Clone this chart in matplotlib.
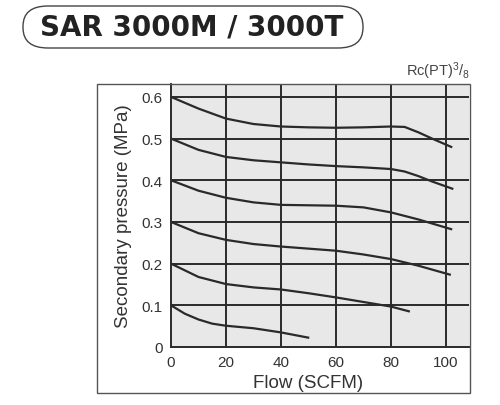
import matplotlib
matplotlib.use("Agg")
import matplotlib.pyplot as plt
from matplotlib.patches import FancyBboxPatch, Rectangle

plt.rcParams['font.family'] = ['Liberation Sans', 'DejaVu Sans']
plt.rcParams['mathtext.default'] = 'regular'

# curves (flow SCFM, secondary pressure MPa)
x06 = [0, 10, 20, 30, 40, 50, 60, 70, 80, 85, 90, 95, 102.3]
y06 = [0.6, 0.572, 0.548, 0.535, 0.529, 0.527, 0.526, 0.527, 0.529, 0.528, 0.515, 0.5, 0.479]
x05 = [0, 10, 20, 30, 40, 50, 60, 70, 80, 85, 90, 95, 102.7]
y05 = [0.5, 0.473, 0.456, 0.448, 0.443, 0.438, 0.434, 0.431, 0.427, 0.421, 0.41, 0.397, 0.379]
x04 = [0, 10, 20, 30, 40, 50, 60, 70, 80, 90, 102.3]
y04 = [0.4, 0.375, 0.358, 0.347, 0.341, 0.34, 0.339, 0.335, 0.323, 0.306, 0.282]
x03 = [0, 10, 20, 30, 40, 50, 60, 70, 80, 90, 101.8]
y03 = [0.3, 0.273, 0.257, 0.247, 0.241, 0.236, 0.231, 0.222, 0.211, 0.195, 0.173]
x02 = [0, 10, 20, 30, 40, 50, 60, 70, 80, 86.9]
y02 = [0.2, 0.168, 0.151, 0.143, 0.138, 0.129, 0.119, 0.108, 0.097, 0.085]
x01 = [0, 5, 10, 15, 20, 30, 40, 50.3]
y01 = [0.1, 0.08, 0.066, 0.056, 0.051, 0.045, 0.035, 0.022]

curves = [(x06, y06), (x05, y05), (x04, y04), (x03, y03), (x02, y02), (x01, y01)]
xticks = [0, 20, 40, 60, 80, 100]
yticks = [0, 0.1, 0.2, 0.3, 0.4, 0.5, 0.6]
ytick_labels = ['0', '0.1', '0.2', '0.3', '0.4', '0.5', '0.6']

W, H = 500, 406
fig = plt.figure(figsize=(W / 100, H / 100), dpi=100)

# outer frame around the chart
fig.patches.append(Rectangle((97 / W, 1 - 394 / H), (470 - 97) / W, (394 - 85) / H,
                             transform=fig.transFigure, fill=False,
                             edgecolor='#555555', linewidth=1.0))

# title in a rounded box
fig.patches.append(FancyBboxPatch((23 / W, 1 - 49 / H), (363 - 23) / W, (49 - 7) / H,
                                  boxstyle='round,pad=0,rounding_size=0.05',
                                  transform=fig.transFigure, fill=False,
                                  edgecolor='#444444', linewidth=1.0,
                                  mutation_aspect=1.0))
fig.text(192 / W, 1 - 28 / H, 'SAR 3000M / 3000T', ha='center', va='center',
         fontsize=20, fontweight='bold', color='#222222', family='DejaVu Sans')
fig.text(470 / W, 1 - 71 / H, 'Rc(PT)$^{3}$/$_{8}$', ha='right', va='center',
         fontsize=10.5, color='#444444')

ax = fig.add_axes([171 / W, 1 - 348 / H, (469 - 171) / W, (348 - 85) / H])
ax.set_facecolor('#e8e8e8')
ax.set_xlim(0, 108.4)
ax.set_ylim(0, 0.631)

for v in xticks[1:]:
    ax.axvline(v, color='#2a2a2a', linewidth=1.4, zorder=1)
for v in yticks[1:]:
    ax.axhline(v, color='#2a2a2a', linewidth=1.4, zorder=1)

for xs, ys in curves:
    ax.plot(xs, ys, color='#2a2a2a', linewidth=1.6, zorder=2, solid_capstyle='butt')

ax.set_xticks(xticks)
ax.set_yticks(yticks)
ax.set_yticklabels(ytick_labels)
ax.tick_params(length=0, labelsize=11, labelcolor='#333333', pad=6)
for s in ['top', 'right']:
    ax.spines[s].set_visible(False)
for s in ['left', 'bottom']:
    ax.spines[s].set_color('#2a2a2a')
    ax.spines[s].set_linewidth(1.4)

ax.set_ylabel('Secondary pressure (MPa)', fontsize=13.5, color='#333333', labelpad=7)
ax.text(50, -0.085, 'Flow (SCFM)', ha='center', va='center', fontsize=13.5,
        color='#333333', transform=ax.transData, clip_on=False)

fig.savefig('out.png', dpi=100)
